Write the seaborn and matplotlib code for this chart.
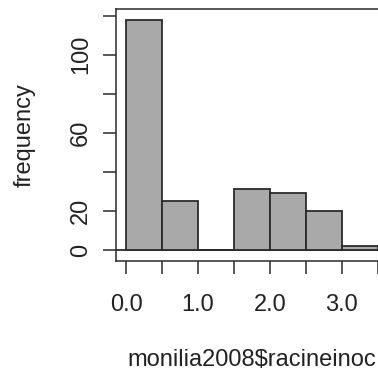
import numpy as np
import seaborn as sns
import matplotlib
matplotlib.use("Agg")
import matplotlib.pyplot as plt

# histogram of monilia2008$racineinoc (bin edges and counts)
bin_edges = [0.0, 0.5, 1.0, 1.5, 2.0, 2.5, 3.0, 3.5]
counts = [118, 25, 0, 31, 29, 20, 2]
xticks = [0.0, 0.5, 1.0, 1.5, 2.0, 2.5, 3.0, 3.5]
xtick_labels = ["0.0", "", "1.0", "", "2.0", "", "3.0", ""]
yticks = [0, 20, 40, 60, 80, 100, 120]
ytick_labels = ["0", "20", "", "60", "", "100", ""]

sns.set_style("white")
plt.rcParams["font.family"] = ["Liberation Sans", "DejaVu Sans"]

dark = "#2b2b2b"
mids = [(a + b) / 2 for a, b in zip(bin_edges[:-1], bin_edges[1:])]

fig = plt.figure(figsize=(3.78, 3.74), dpi=100)
# the plot box runs past the right edge of the image, as in the reference
ax = fig.add_axes([116 / 378, 113.5 / 374, 272 / 378, 251.5 / 374])

sns.histplot(x=mids, weights=counts, bins=bin_edges, ax=ax,
             color="#a9a9a9", edgecolor=dark, linewidth=1.3, alpha=1)
ax.axhline(0, color=dark, lw=1.3, zorder=0)

ax.set_xlim(-0.14, 3.64)
ax.set_ylim(-5.4, 123.4)

ax.set_xticks(xticks)
ax.set_xticklabels(xtick_labels)
ax.set_yticks(yticks)
ax.set_yticklabels(ytick_labels, rotation=90, va="center")

ax.tick_params(axis="both", direction="out", length=9.4, width=1.1,
               color=dark, labelsize=17, labelcolor="#222222",
               bottom=True, left=True)
ax.tick_params(axis="x", pad=15)
ax.tick_params(axis="y", pad=8)

for s in ax.spines.values():
    s.set_color(dark)
    s.set_linewidth(1.1)

ax.set_xlabel("monilia2008$racineinoc", fontsize=17, color="#222222")
ax.set_ylabel("frequency", fontsize=17, color="#222222")
ax.xaxis.set_label_coords(0.499, -0.352)
ax.yaxis.set_label_coords(-0.294, 0.5)

plt.savefig("out.png", dpi=100)
